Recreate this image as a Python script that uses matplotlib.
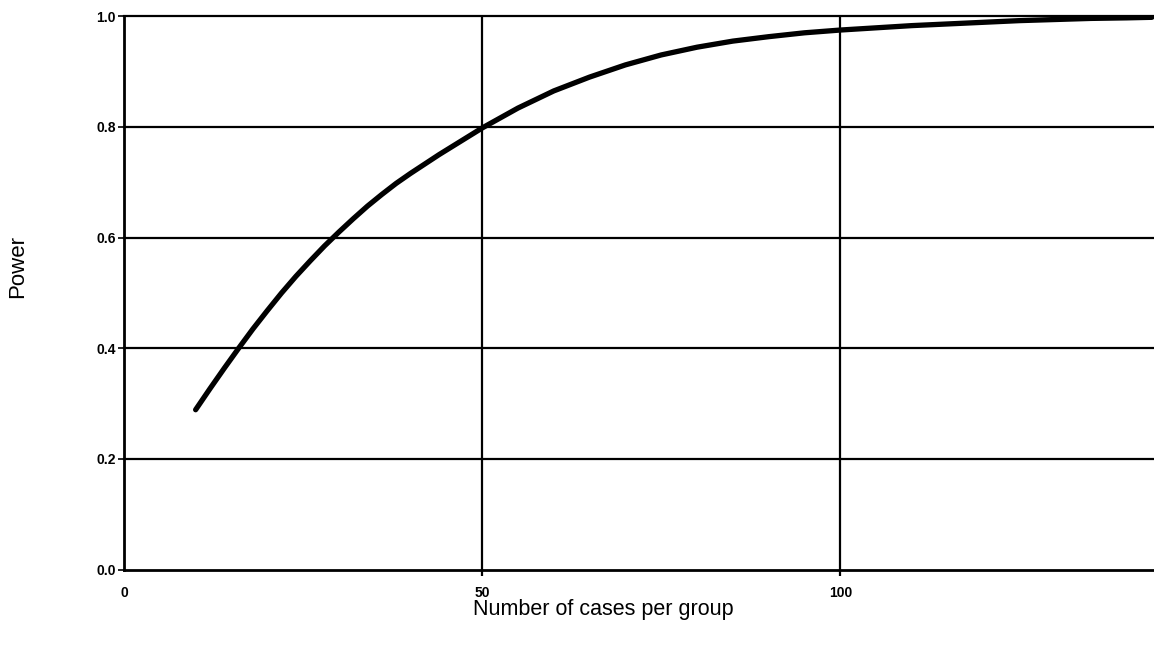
import matplotlib
matplotlib.use("Agg")
import matplotlib.pyplot as plt

# Data
cases = [10, 12, 14, 16, 18, 20, 22, 24, 26, 28, 30, 32, 34, 36, 38, 40, 42, 44,
         46, 48, 50, 55, 60, 65, 70, 75, 80, 85, 90, 95, 100, 105, 110, 115, 120,
         125, 130, 135, 140, 143.5]
power = [0.289, 0.327, 0.364, 0.400, 0.435, 0.468, 0.500, 0.530, 0.558, 0.585,
         0.610, 0.634, 0.657, 0.678, 0.698, 0.716, 0.733, 0.750, 0.766, 0.782,
         0.798, 0.834, 0.865, 0.890, 0.912, 0.930, 0.944, 0.955, 0.963, 0.970,
         0.975, 0.979, 0.983, 0.986, 0.989, 0.992, 0.994, 0.996, 0.997, 0.998]
x_ticks = [0, 50, 100]
y_ticks = [0.0, 0.2, 0.4, 0.6, 0.8, 1.0]
y_tick_labels = ["0.0", "0.2", "0.4", "0.6", "0.8", "1.0"]

plt.rcParams['font.family'] = ['Liberation Sans', 'DejaVu Sans']

fig = plt.figure(figsize=(11.54, 6.46), dpi=100)
ax = fig.add_axes([124/1154, 1 - 569.7/646, 1 - 124/1154, (569.7 - 16.2)/646])

ax.set_xlim(0, 143.8)
ax.set_ylim(0, 1.0)

# grid lines
for yv in y_ticks[1:]:
    ax.axhline(yv, color='black', lw=1.6, zorder=1, clip_on=False)
for xv in x_ticks[1:]:
    ax.axvline(xv, color='black', lw=1.6, zorder=1)

ax.plot(cases, power, color='black', lw=3.8, solid_capstyle='round', zorder=3)

for s in ['top', 'right']:
    ax.spines[s].set_visible(False)
for s in ['left', 'bottom']:
    ax.spines[s].set_linewidth(2.0)
    ax.spines[s].set_color('black')

ax.set_xticks(x_ticks)
ax.set_xticklabels([str(v) for v in x_ticks], fontsize=10, fontweight='bold')
ax.set_yticks(y_ticks)
ax.set_yticklabels(y_tick_labels, fontsize=10, fontweight='bold')
ax.tick_params(axis='y', direction='out', length=4, width=1.2, pad=2)
ax.tick_params(axis='x', direction='out', length=4, width=1.6, pad=8)
ax.xaxis.get_major_ticks()[0].tick1line.set_visible(False)

fig.text(603/1154, 1 - 609/646, "Number of cases per group", fontsize=15.5,
         ha='center', va='center')
fig.text(18/1154, 1 - 266/646, "Power", fontsize=16, rotation=90,
         ha='center', va='center')

fig.savefig("out.png", dpi=100)
